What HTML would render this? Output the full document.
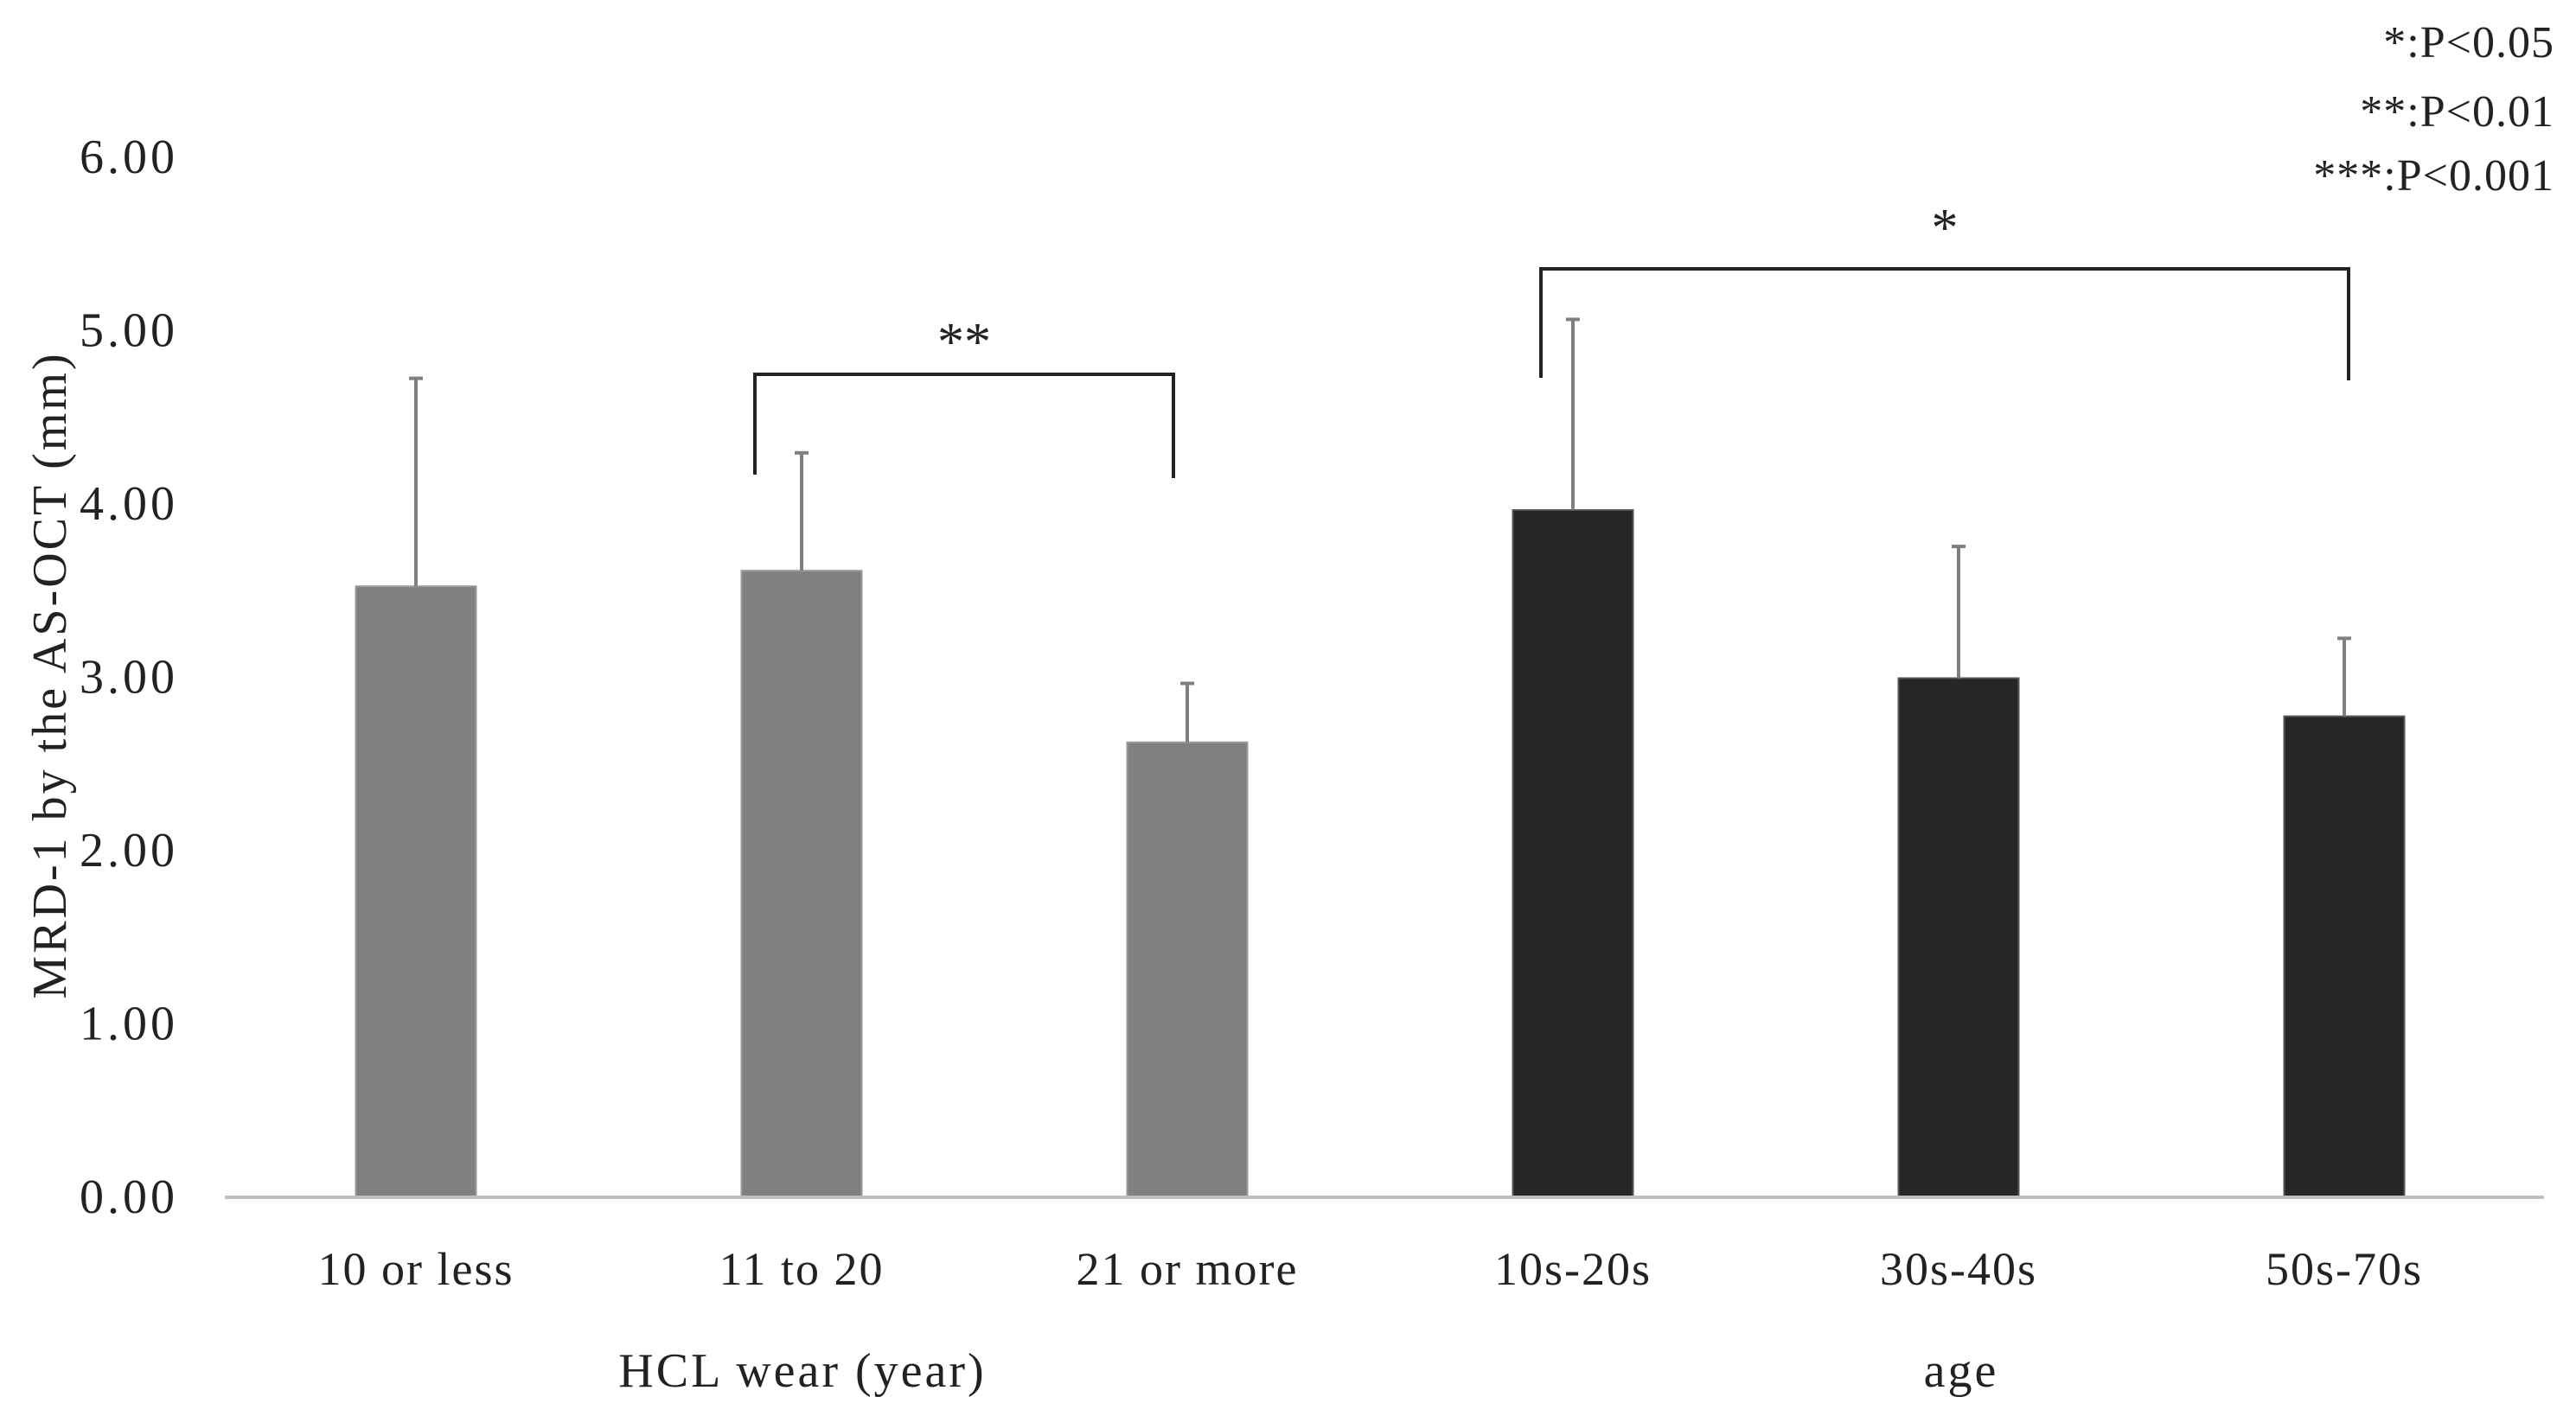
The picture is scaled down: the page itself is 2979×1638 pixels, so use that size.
<!DOCTYPE html>
<html><head><meta charset="utf-8"><style>
html,body{margin:0;padding:0;background:#fff;}
svg{display:block;font-family:"Liberation Serif",serif;}
</style></head><body>
<svg id="chart" width="2979" height="1638" viewBox="0 0 2979 1638"></svg>
<script>
const categories = ["10 or less","11 to 20","21 or more","10s-20s","30s-40s","50s-70s"];
const means = [3.52, 3.61, 2.62, 3.96, 2.99, 2.77];
const sdTops = [4.72, 4.29, 2.96, 5.06, 3.75, 3.22];
const groups = ["hcl","hcl","hcl","age","age","age"];
const yTicks = [0,1,2,3,4,5,6];
const yTickLabels = ["0.00","1.00","2.00","3.00","4.00","5.00","6.00"];

const NS="http://www.w3.org/2000/svg";
const svg=document.getElementById('chart');
const x0=258, x1=2934, yBase=1384, yTop=181, yMax=6;
const band=(x1-x0)/categories.length;
const barW=139;
function y(v){return yBase-(v/yMax)*(yBase-yTop);}
function cx(i){return x0+band*(i+0.5);}
function mk(tag,attrs,parent){const e=document.createElementNS(NS,tag);for(const k in attrs)e.setAttribute(k,attrs[k]);(parent||svg).appendChild(e);return e;}

yTicks.forEach((t,i)=>{
  const e=mk('text',{x:206,y:y(t)+19,'text-anchor':'end','font-size':56,'letter-spacing':4,fill:'#222'});
  e.textContent=yTickLabels[i];
  
  
});
categories.forEach((c,i)=>{
  const col=groups[i]==='hcl'?'#808080':'#262626';
  const b=mk('rect',{x:cx(i)-barW/2,y:y(means[i]),width:barW,height:yBase-y(means[i]),fill:col,stroke:groups[i]==='hcl'?'#9a9a9a':'#555','stroke-width':2});
  
  
  const g=mk('g',{stroke:'#7f7f7f','stroke-width':4});
  
  
  mk('line',{x1:cx(i),x2:cx(i),y1:y(means[i]),y2:y(sdTops[i])},g);
  mk('line',{x1:cx(i)-8,x2:cx(i)+8,y1:y(sdTops[i]),y2:y(sdTops[i])},g);
  const t=mk('text',{x:cx(i),y:1486,'text-anchor':'middle','font-size':54,'letter-spacing':2,fill:'#222'});
  t.textContent=c;
  
  
});
const ax=mk('line',{x1:260,x2:2942,y1:yBase+1,y2:yBase+1,stroke:'#bfbfbf','stroke-width':4});



function bracket(xa,xb,yt,ya,yb,label,ly,name){
  const p=mk('path',{d:`M${xa},${ya} V${yt} H${xb} V${yb}`,fill:'none',stroke:'#222','stroke-width':4});
  
  
  const t=mk('text',{x:(xa+xb)/2,y:ly,'text-anchor':'middle','font-size':62,fill:'#222'});
  t.textContent=label;
  
  
}
bracket(873,1357,433,549,553,'**',416,'significance-bracket-hcl');
bracket(1782,2716,311,437,440,'*',284,'significance-bracket-age');

[["*:P<0.05",66],["**:P<0.01",146],["***:P<0.001",220]].forEach(([s,yy])=>{
  const t=mk('text',{x:2954,y:yy,'text-anchor':'end','font-size':52,'letter-spacing':1,fill:'#222'});
  t.textContent=s;
  
  
});
let t=mk('text',{x:928,y:1604,'text-anchor':'middle','font-size':56,'letter-spacing':3,fill:'#222'});
t.textContent='HCL wear (year)';


t=mk('text',{x:2268,y:1604,'text-anchor':'middle','font-size':56,'letter-spacing':3,fill:'#222'});
t.textContent='age';


t=mk('text',{x:0,y:0,'text-anchor':'middle','font-size':56,'letter-spacing':3,fill:'#222',transform:'translate(76,781) rotate(-90)'});
t.textContent='MRD-1 by the AS-OCT (mm)';


</script>
</body></html>
